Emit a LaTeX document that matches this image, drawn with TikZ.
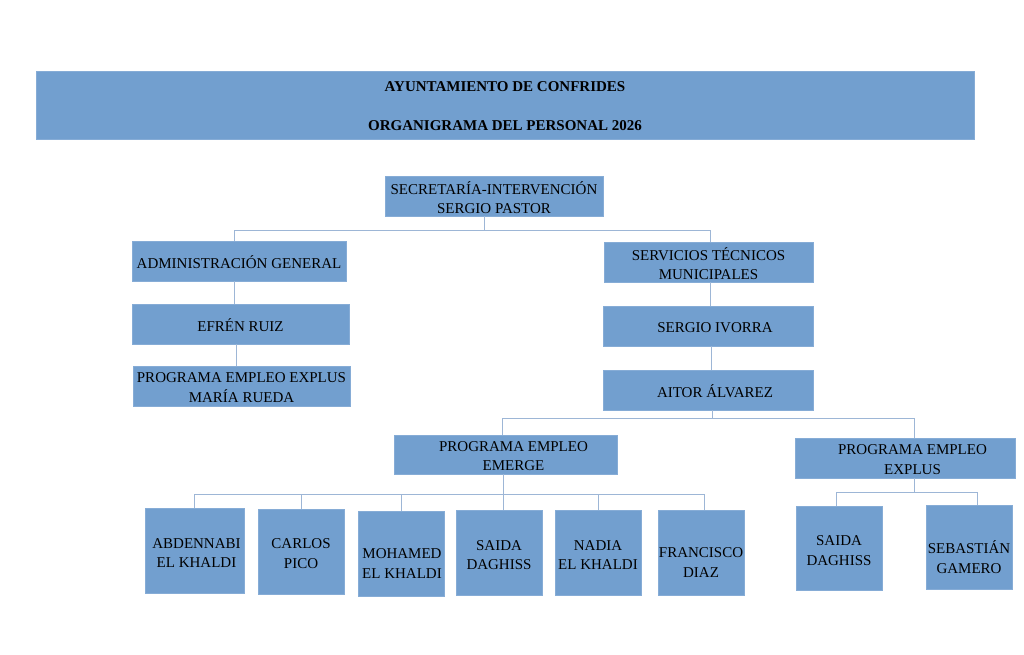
\documentclass[tikz,border=0pt]{standalone}
\usepackage{fontspec}
\setmainfont{Liberation Serif}
\definecolor{boxfill}{HTML}{729FCF}
\definecolor{boxline}{HTML}{86ACD6}
\definecolor{connline}{HTML}{9DB6D6}
\begin{document}
\begin{tikzpicture}[x=1pt,y=-1pt,
  box/.style={draw=boxline,line width=0.8pt,fill=boxfill,inner sep=0pt},
  txt/.style={inner sep=0pt,align=center,font=\fontsize{15}{19.5}\selectfont,text=black},
  conn/.style={draw=connline,line width=1pt}]
\useasboundingbox (0,0) rectangle (1024,655);
% title
\node[box,minimum width=938pt,minimum height=68pt,
  label={[txt,font=\fontsize{15}{19.5}\selectfont\bfseries,yshift=-1.5pt]center:{AYUNTAMIENTO DE CONFRIDES\\[19.5pt]ORGANIGRAMA DEL PERSONAL 2026}}] (title) at (505,105) {};
% level 1
\node[box,minimum width=218pt,minimum height=40pt,
  label={[txt,yshift=-1.5pt]center:{SECRETARÍA-INTERVENCIÓN\\SERGIO PASTOR}}] (sec) at (494,196) {};
% left branch
\node[box,minimum width=214pt,minimum height=40pt,
  label={[txt,yshift=-1.5pt]center:{ADMINISTRACIÓN GENERAL}}] (adm) at (239,261) {};
\node[box,minimum width=217pt,minimum height=40pt,
  label={[txt,yshift=-1.5pt]center:{EFRÉN RUIZ}}] (efren) at (240.5,324) {};
\node[box,minimum width=217pt,minimum height=40pt,
  label={[txt,yshift=-1.5pt]center:{PROGRAMA EMPLEO EXPLUS\\MARÍA RUEDA}}] (prog) at (241.5,386) {};
% right branch
\node[box,minimum width=209pt,minimum height=40pt,
  label={[txt,yshift=-1.5pt]center:{SERVICIOS TÉCNICOS\\MUNICIPALES}}] (serv) at (708.5,262) {};
\node[box,minimum width=210pt,minimum height=40pt,
  label={[txt,xshift=7pt,yshift=-1.5pt]center:{SERGIO IVORRA}}] (sergio) at (708,326) {};
\node[box,minimum width=210pt,minimum height=40pt,
  label={[txt,xshift=7pt,yshift=-1.5pt]center:{AITOR ÁLVAREZ}}] (aitor) at (708,390) {};
\node[box,minimum width=223pt,minimum height=39pt,
  label={[txt,xshift=8pt,yshift=-1.5pt]center:{PROGRAMA EMPLEO\\EMERGE}}] (emerge) at (505.5,454.5) {};
\node[box,minimum width=220pt,minimum height=40pt,
  label={[txt,xshift=7.5pt,yshift=-1.5pt]center:{PROGRAMA EMPLEO\\EXPLUS}}] (explus) at (905,458) {};
% emerge children
\node[box,minimum width=99pt,minimum height=85pt,
  label={[txt,xshift=2pt,yshift=-2.5pt]center:{ABDENNABI\\EL KHALDI}}] (abd) at (194.5,550.5) {};
\node[box,minimum width=86pt,minimum height=85pt,
  label={[txt,yshift=-2pt]center:{CARLOS\\PICO}}] (carlos) at (301,551.5) {};
\node[box,minimum width=86pt,minimum height=85pt,
  label={[txt,xshift=1pt,yshift=-10pt]center:{MOHAMED\\EL KHALDI}}] (moh) at (401,553.5) {};
\node[box,minimum width=86pt,minimum height=85pt,
  label={[txt,yshift=-2.5pt]center:{SAIDA\\DAGHISS}}] (saida) at (499,552.5) {};
\node[box,minimum width=86pt,minimum height=85pt,
  label={[txt,yshift=-2.5pt]center:{NADIA\\EL KHALDI}}] (nadia) at (598,552.5) {};
\node[box,minimum width=86pt,minimum height=85pt,
  label={[txt,yshift=-10pt]center:{FRANCISCO\\DIAZ}}] (fran) at (701,552.5) {};
% explus children
\node[box,minimum width=86pt,minimum height=84pt,
  label={[txt,yshift=-2.5pt]center:{SAIDA\\DAGHISS}}] (saidab) at (839,548) {};
\node[box,minimum width=86pt,minimum height=84pt,
  label={[txt,yshift=-10pt]center:{SEBASTIÁN\\GAMERO}}] (seb) at (969,547) {};
% bus coordinates
\coordinate (b1) at (484,230);
\coordinate (b2) at (712,418);
\coordinate (b3) at (503,494);
\coordinate (b4) at (914,492);
% connectors
\draw[conn] (sec.south -| b1) -- (b1) -| ([xshift=-5pt]adm.north);
\draw[conn] (b1) -| ([xshift=1.5pt]serv.north);
\draw[conn] ([xshift=-5pt]adm.south) -- ([xshift=-6.5pt]efren.north);
\draw[conn] ([xshift=-4.5pt]efren.south) -- ([xshift=-5.5pt]prog.north);
\draw[conn] ([xshift=1.5pt]serv.south) -- ([xshift=2pt]sergio.north);
\draw[conn] ([xshift=3pt]sergio.south) -- ([xshift=3pt]aitor.north);
\draw[conn] (aitor.south -| b2) -- (b2) -| ([xshift=-3.5pt]emerge.north);
\draw[conn] (b2) -| ([xshift=9pt]explus.north);
\draw[conn] (emerge.south -| b3) -- (b3) -| (abd.north);
\draw[conn] (b3) -| (carlos.north);
\draw[conn] (b3) -| (moh.north);
\draw[conn] (b3) -- ([xshift=4pt]saida.north);
\draw[conn] (b3) -| (nadia.north);
\draw[conn] (b3) -| ([xshift=3pt]fran.north);
\draw[conn] (explus.south -| b4) -- (b4) -| ([xshift=-3pt]saidab.north);
\draw[conn] (b4) -| ([xshift=8pt]seb.north);
\end{tikzpicture}
\end{document}
